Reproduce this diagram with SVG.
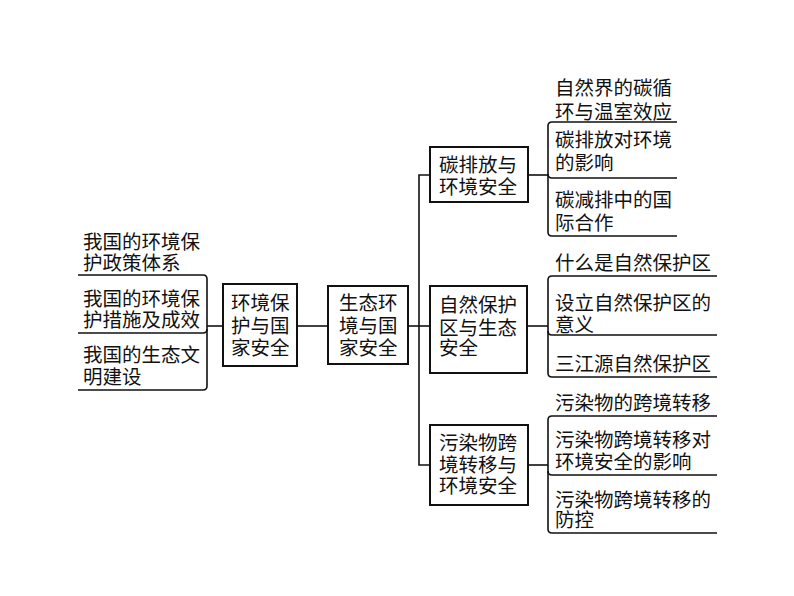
<svg xmlns="http://www.w3.org/2000/svg" width="794" height="596" viewBox="0 0 794 596">
<style>
text{font-family:"Liberation Sans","Noto Sans CJK SC",sans-serif;font-size:19.5px;fill:#111}
.box{fill:#fff;stroke:#111;stroke-width:2}
.ln{fill:none;stroke:#111;stroke-width:1.6}
</style>
<rect width="794" height="596" fill="#fff"/>
<g id="connectors">
<path class="ln" d="M78,275 H203 Q207,275 207,279 V386 Q207,390 203,390 H78"/>
<path class="ln" d="M78,333 H203 Q207,333 207,329"/>
<path class="ln" d="M207,326 H223"/>
<path class="ln" d="M297,326 H328"/>
<path class="ln" d="M408,326 H419"/>
<path class="ln" d="M430,175 H419 V465 H430"/>
<path class="ln" d="M419,326 H430"/>
<path class="ln" d="M528,175 H548"/>
<path class="ln" d="M677,122 H552 Q548,122 548,126 V232 Q548,236 552,236 H677"/>
<path class="ln" d="M548,174 Q548,178 552,178 H677"/>
<path class="ln" d="M527,326 H548"/>
<path class="ln" d="M717,276 H552 Q548,276 548,280 V373 Q548,377 552,377 H717"/>
<path class="ln" d="M548,331 Q548,335 552,335 H717"/>
<path class="ln" d="M528,465 H548"/>
<path class="ln" d="M717,416 H552 Q548,416 548,420 V529 Q548,533 552,533 H717"/>
<path class="ln" d="M548,471 Q548,475 552,475 H717"/>
</g>
<g id="left-items">
<text x="83" y="249">我国的环境保<tspan x="83" y="270">护政策体系</tspan></text>
<text x="83" y="306">我国的环境保<tspan x="83" y="327">护措施及成效</tspan></text>
<text x="83" y="362">我国的生态文<tspan x="83" y="384">明建设</tspan></text>
</g>
<g id="n-env">
<rect class="box" x="223" y="284" width="74" height="82"/>
<text x="231" y="310">环境保<tspan x="231" y="333">护与国</tspan><tspan x="231" y="355">家安全</tspan></text>
</g>
<g id="n-eco">
<rect class="box" x="328" y="286" width="80" height="78"/>
<text x="339" y="310">生态环<tspan x="339" y="333">境与国</tspan><tspan x="339" y="355">家安全</tspan></text>
</g>
<g id="n-carbon">
<rect class="box" x="430" y="147" width="98" height="55"/>
<text x="439" y="172">碳排放与<tspan x="439" y="194">环境安全</tspan></text>
</g>
<g id="carbon-items">
<text x="555" y="95">自然界的碳循<tspan x="555" y="119">环与温室效应</tspan></text>
<text x="555" y="147">碳排放对环境<tspan x="555" y="170">的影响</tspan></text>
<text x="555" y="207">碳减排中的国<tspan x="555" y="230">际合作</tspan></text>
</g>
<g id="n-nature">
<rect class="box" x="430" y="286" width="97" height="87"/>
<text x="439" y="312">自然保护<tspan x="439" y="335">区与生态</tspan><tspan x="439" y="355">安全</tspan></text>
</g>
<g id="nature-items">
<text x="555" y="270">什么是自然保护区</text>
<text x="555" y="310">设立自然保护区的<tspan x="555" y="332">意义</tspan></text>
<text x="555" y="371">三江源自然保护区</text>
</g>
<g id="n-pollution">
<rect class="box" x="430" y="425" width="98" height="80"/>
<text x="439" y="450">污染物跨<tspan x="439" y="472">境转移与</tspan><tspan x="439" y="493">环境安全</tspan></text>
</g>
<g id="pollution-items">
<text x="555" y="410">污染物的跨境转移</text>
<text x="555" y="447">污染物跨境转移对<tspan x="555" y="469">环境安全的影响</tspan></text>
<text x="555" y="507">污染物跨境转移的<tspan x="555" y="527">防控</tspan></text>
</g>
</svg>
